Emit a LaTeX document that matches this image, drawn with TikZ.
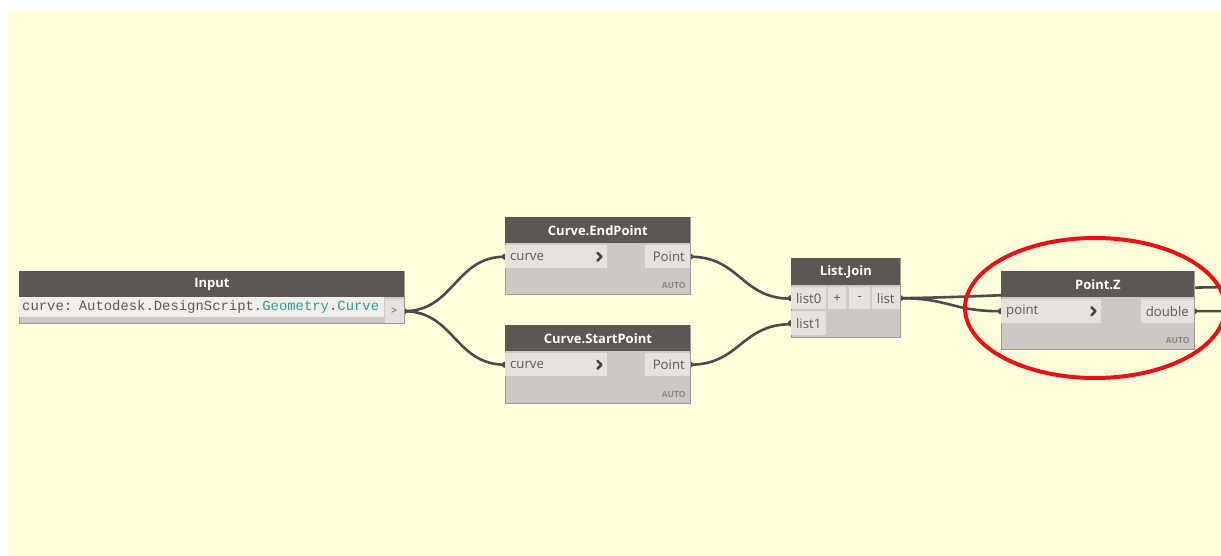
\documentclass[tikz,border=0pt]{standalone}
\usepackage{fontspec}
\setmainfont{Open Sans}
\newfontfamily\codefont{Liberation Mono}

\definecolor{canvasyellow}{RGB}{255,255,221}
\definecolor{headgray}{RGB}{92,87,82}
\definecolor{bodygray}{RGB}{205,200,195}
\definecolor{portgray}{RGB}{229,226,222}
\definecolor{edgegray}{RGB}{160,155,150}
\definecolor{labelgray}{RGB}{94,90,86}
\definecolor{chevgray}{RGB}{70,66,62}
\definecolor{autogray}{RGB}{140,134,129}
\definecolor{wiregray}{RGB}{75,75,75}
\definecolor{tealtxt}{RGB}{58,154,140}
\definecolor{markred}{RGB}{232,18,22}

\pgfdeclarelayer{canvas}
\pgfdeclarelayer{wires}
\pgfsetlayers{canvas,wires,main}

\tikzset{
  dynbox/.style={draw=edgegray, fill=bodygray, line width=0.8, anchor=north west, inner sep=0},
  dynhead/.style={fill=headgray, text=white, font=\fontsize{13}{15}\selectfont\bfseries, anchor=north, minimum height=26, inner sep=0},
  field/.style={fill=portgray, text=labelgray, font=\fontsize{13.2}{15}\selectfont, inner xsep=5, inner ysep=0, minimum height=23},
  inport/.style={field, anchor=north west, text width=#1, align=left},
  outport/.style={field, anchor=north east, text width=#1, align=right},
  autotag/.style={text=autogray, font=\fontsize{8.5}{9}\selectfont\bfseries, anchor=south east, inner sep=0},
  chevron/.style={draw=chevgray, line width=2.5, line cap=round, line join=round},
  wire/.style={draw=wiregray, line width=2.6},
  portdot/.style={fill=wiregray},
}

\begin{document}
\begin{tikzpicture}[x=1pt, y=-1pt]

  \useasboundingbox (0,0) rectangle (1221,556);

  % Canvas
  \begin{pgfonlayer}{canvas}
    \fill[white] (0,0) rectangle (1221,556);
    \fill[canvasyellow] (7,11) rectangle (1221,556);
  \end{pgfonlayer}

  % Input node
  \node[dynbox, minimum width=385, minimum height=52] (inBox) at (19,271) {};
  \node[dynhead, minimum width=385] (inHead) at (inBox.north) {Input};
  \node[field, anchor=north west, inner xsep=3, text width=359, align=left, minimum height=20, fill=portgray!60!white] (inText) at (19,297)
    {\codefont\fontsize{13.9}{16}\selectfont curve: Autodesk.DesignScript.\textcolor{tealtxt}{Geometry}.\textcolor{tealtxt}{Curve}};
  \node[field, anchor=north east, minimum width=19, minimum height=24, inner xsep=0, font=\fontsize{11}{12}\selectfont] (inGt) at (404,299) {>};

  % Curve.EndPoint
  \node[dynbox, minimum width=185, minimum height=77] (endBox) at (505,217) {};
  \node[dynhead, minimum width=185] (endHead) at (endBox.north) {Curve.EndPoint};
  \node[inport=92] (endIn) at (505,245) {curve};
  \node[outport=35] (endOut) at (690,245) {Point};
  \node[autotag] at ([shift={(-5pt,6pt)}]endBox.south east) {AUTO};
  \draw[chevron] ([shift={(-10pt,4pt)}]endIn.east) -- ++(4pt,-4pt) -- ++(-4pt,-4pt);

  % Curve.StartPoint
  \node[dynbox, minimum width=185, minimum height=78] (startBox) at (505,325) {};
  \node[dynhead, minimum width=185] (startHead) at (startBox.north) {Curve.StartPoint};
  \node[inport=92] (startIn) at (505,353) {curve};
  \node[outport=35] (startOut) at (690,353) {Point};
  \node[autotag] at ([shift={(-5pt,6pt)}]startBox.south east) {AUTO};
  \draw[chevron] ([shift={(-10pt,4pt)}]startIn.east) -- ++(4pt,-4pt) -- ++(-4pt,-4pt);

  % List.Join
  \node[dynbox, minimum width=109, minimum height=79] (joinBox) at (791,258) {};
  \node[dynhead, minimum width=109, minimum height=27] (joinHead) at (joinBox.north) {List.Join};
  \node[field, anchor=north west, minimum width=35, minimum height=22, inner xsep=0] (joinInA) at (791,287) {list0};
  \node[field, anchor=north west, minimum width=35, minimum height=24, inner xsep=0] (joinInB) at (791,311) {list1};
  \node[field, anchor=north west, minimum width=18, minimum height=22, inner xsep=0] (joinPlus) at (828,287) {+};
  \node[field, anchor=north west, minimum width=21, minimum height=22, inner xsep=0] (joinMinus) at (849,287) {-};
  \node[field, anchor=north east, minimum width=28, minimum height=22, inner xsep=0] (joinOut) at (900,287) {list};

  % Point.Z
  \node[dynbox, minimum width=193, minimum height=78] (zBox) at (1001,271) {};
  \node[dynhead, minimum width=193] (zHead) at (zBox.north) {Point.Z};
  \node[inport=90, minimum height=24] (zIn) at (1001,299) {point};
  \node[outport=43, minimum height=24] (zOut) at (1194,299) {double};
  \node[autotag] at ([shift={(-5pt,6pt)}]zBox.south east) {AUTO};
  \draw[chevron] ([shift={(-10pt,4pt)}]zIn.east) -- ++(4pt,-4pt) -- ++(-4pt,-4pt);

  % Wires to nodes outside the view
  \coordinate (offA) at (1240,287);
  \coordinate (offB) at (1240,311);

  % Wires
  \begin{pgfonlayer}{wires}
    \draw[wire] (inGt.east) .. controls +(50,0) and +(-50,0) .. (endIn.west);
    \draw[wire] (inGt.east) .. controls +(50,0) and +(-50,0) .. (startIn.west);
    \draw[wire] (endOut.east) .. controls +(50,0) and +(-50,0) .. ([yshift=-0.5pt]joinInA.west);
    \draw[wire] (startOut.east) .. controls +(50,0) and +(-50,0) .. ([yshift=-1pt]joinInB.west);
    \draw[wire] (joinOut.east) .. controls +(50,0) and +(-50,0) .. (zIn.west);
    \draw[wire] (joinOut.east) .. controls (1000,297) and (1150,287) .. (offA);
    \draw[wire] (zOut.east) -- (offB);
    % Port dots
    \foreach \p in {inGt.east, endIn.west, startIn.west, endOut.east, startOut.east, joinInA.west, joinInB.west, joinOut.east, zIn.west, zOut.east}
      \fill[portdot] (\p) circle (3.2pt);
  \end{pgfonlayer}

  % Highlight
  \draw[markred, line width=4] (1095,308) ellipse [x radius=130, y radius=70];

\end{tikzpicture}
\end{document}
